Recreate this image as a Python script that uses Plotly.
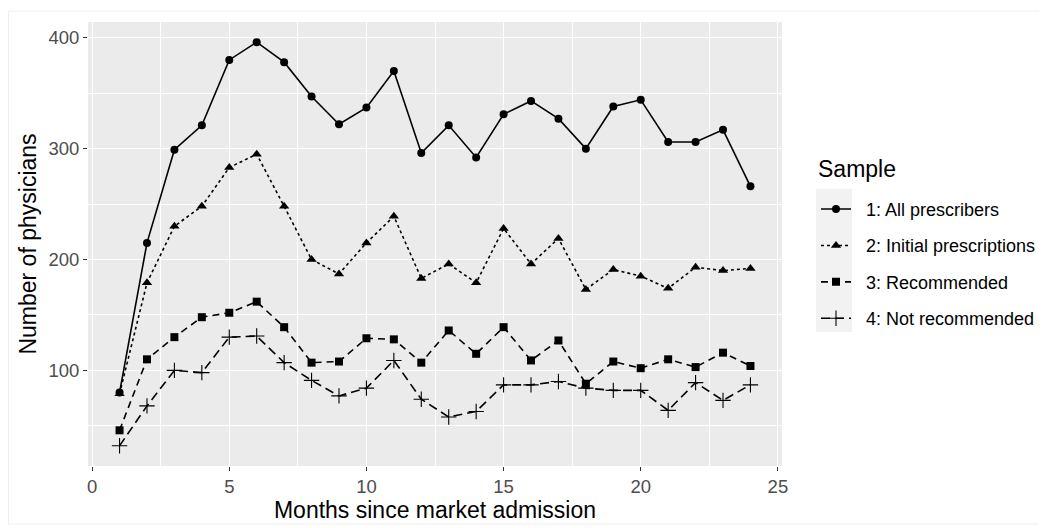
import plotly.graph_objects as go

months = list(range(1, 25))

all_prescribers = [80, 215, 299, 321, 380, 396, 378, 347, 322, 337, 370, 296,
                   321, 292, 331, 343, 327, 300, 338, 344, 306, 306, 317, 266]
initial_prescriptions = [79, 179, 230, 248, 283, 295, 248, 200, 187, 215, 239, 183,
                         196, 179, 228, 196, 219, 173, 191, 185, 174, 193, 190, 192]
recommended = [46, 110, 130, 148, 152, 162, 139, 107, 108, 129, 128, 107,
               136, 115, 139, 109, 127, 88, 108, 102, 110, 103, 116, 104]
not_recommended = [32, 68, 100, 98, 130, 131, 107, 91, 77, 84, 109, 74,
                   58, 63, 87, 87, 90, 84, 82, 82, 64, 89, 73, 87]

series_names = ["1: All prescribers", "2: Initial prescriptions",
                "3: Recommended", "4: Not recommended"]

FONT = "Liberation Sans, Arial, sans-serif"

# the page body adds an 8px margin, so the figure is shifted by that much
OFF = 8
W, H = 1047, 528
# extra width past the window so the legend never pushes the plot margins
EXTRA = 60
# plot panel in page pixels
L, R, T, B = 88, 782, 22, 469


def px_x(p):
    return (p - L) / (R - L)


def px_y(p):
    return (B - p) / (B - T)


fig = go.Figure()

styles = [
    dict(dash="solid", symbol="circle", size=8),
    dict(dash="3px,3px", symbol="triangle-up", size=9),
    dict(dash="7px,5px", symbol="square", size=8),
    dict(dash="9px,5px", symbol="cross-thin", size=11),
]
data = [all_prescribers, initial_prescriptions, recommended, not_recommended]

for i, (name, y, st) in enumerate(zip(series_names, data, styles)):
    marker = dict(symbol=st["symbol"], size=st["size"], color="black")
    if st["symbol"] == "cross-thin":
        marker["line"] = dict(color="black", width=1.1)
    fig.add_trace(go.Scatter(
        x=months, y=y, name="\u00a0\u00a0" + name, mode="lines+markers",
        legendgroup=f"g{i}",
        line=dict(color="black", width=1.6, dash=st["dash"]),
        marker=marker,
    ))

fig.update_layout(
    width=W - OFF + EXTRA, height=H - OFF,
    margin=dict(l=L - OFF, r=W - R + EXTRA, t=T - OFF, b=H - B),
    paper_bgcolor="white",
    plot_bgcolor="#EBEBEB",
    font=dict(family=FONT, color="black"),
    legend=dict(
        font=dict(size=18),
        x=px_x(816), y=px_y(192), xanchor="left", yanchor="top",
        itemwidth=30, tracegroupgap=10,
        bgcolor="rgba(0,0,0,0)",
    ),
    annotations=[
        dict(text="Sample", xref="paper", yref="paper",
             x=px_x(816), y=px_y(170), xanchor="left", yanchor="middle",
             showarrow=False, font=dict(size=23)),
    ],
    shapes=[
        # faint outer frame
        dict(type="rect", xref="paper", yref="paper",
             x0=px_x(8.5), x1=px_x(1046), y0=px_y(527.5), y1=px_y(11),
             line=dict(color="#EEEEEE", width=1), layer="below"),
        # legend key background
        dict(type="rect", xref="paper", yref="paper",
             x0=px_x(816), x1=px_x(852), y0=px_y(334), y1=px_y(190),
             fillcolor="#F2F2F2", line=dict(width=0), layer="below"),
    ],
)

fig.update_xaxes(
    range=[-0.15, 25.15], tickvals=[0, 5, 10, 15, 20, 25],
    showgrid=True, gridcolor="white", gridwidth=1.3,
    minor=dict(tickvals=[2.5, 7.5, 12.5, 17.5, 22.5], showgrid=True,
               gridcolor="white", gridwidth=0.6),
    zeroline=False, showline=False,
    ticks="outside", ticklen=4, tickcolor="#333333", tickwidth=1.2,
    tickfont=dict(size=18.5, color="#4D4D4D"),
    title=dict(text="Months since market admission", font=dict(size=23), standoff=3),
)
fig.update_yaxes(
    range=[13.8, 414.2], tickvals=[100, 200, 300, 400],
    showgrid=True, gridcolor="white", gridwidth=1.3,
    minor=dict(tickvals=[50, 150, 250, 350], showgrid=True,
               gridcolor="white", gridwidth=0.6),
    zeroline=False, showline=False,
    ticks="outside", ticklen=4, tickcolor="#333333", tickwidth=1.2,
    tickfont=dict(size=18.5, color="#4D4D4D"),
    title=dict(text="Number of physicians", font=dict(size=23), standoff=5),
)

fig.write_html("out.html")
